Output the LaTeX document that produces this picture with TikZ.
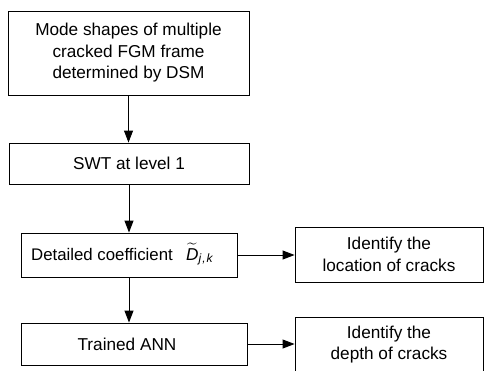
\documentclass[tikz,border=0pt]{standalone}
\usepackage{amsmath}
\usepackage{fontspec}
\setmainfont{Liberation Sans}
\usetikzlibrary{arrows.meta,calc}
\begin{document}
\begin{tikzpicture}[x=1pt,y=-1pt,
  box/.style={draw=black,line width=0.9pt,inner sep=0pt,align=center,
    font=\fontsize{17.2}{21.5}\selectfont},
  txt/.style={inner sep=0pt,align=center,font=\fontsize{17.2}{21.5}\selectfont},
  flow/.style={line width=0.9pt,-{Triangle[length=12pt,width=9pt]}}]
\useasboundingbox[fill=white] (0,0) rectangle (484,370);
% main column
\node[box,minimum width=241pt,minimum height=84pt] (modes) at (128.5,53)
  {Mode shapes of multiple\\cracked FGM frame\\determined by DSM};
\node[box,minimum width=240pt,minimum height=41pt] (swt) at (129,163.5) {SWT at level 1};
\node[box,minimum width=216pt,minimum height=44pt] (coef) at (129,255) {};
\node[txt,anchor=base west,font=\fontsize{16.8}{21.5}\selectfont] (coeftxt) at (31,260)
  {Detailed coefficient};
\node[txt,anchor=base west] (coefsym) at (186,260)
  {$\widetilde{\text{\itshape D}}_{\text{\itshape j\kern1pt,\kern1pt k}}$};
\node[box,minimum width=226pt,minimum height=42pt] (ann) at (134,344) {};
\node[txt] (anntxt) at (127,344) {Trained ANN};
% results column
\node[box,minimum width=188pt,minimum height=55pt] (loc) at (389,254.5)
  {Identify the\\location of cracks};
\node[box,minimum width=188pt,minimum height=55pt] (depth) at (389,344.5)
  {Identify the\\depth of cracks};
% connectors
\draw[flow] (modes.south) -- (modes.south |- swt.north);
\draw[flow] (swt.south) -- (swt.south |- coef.north);
\draw[flow] (coef.south) -- (coef.south |- ann.north);
\draw[flow] (coef.east) -- (coef.east -| loc.west);
\draw[flow] (ann.east) -- (ann.east -| depth.west);
\end{tikzpicture}
\end{document}
